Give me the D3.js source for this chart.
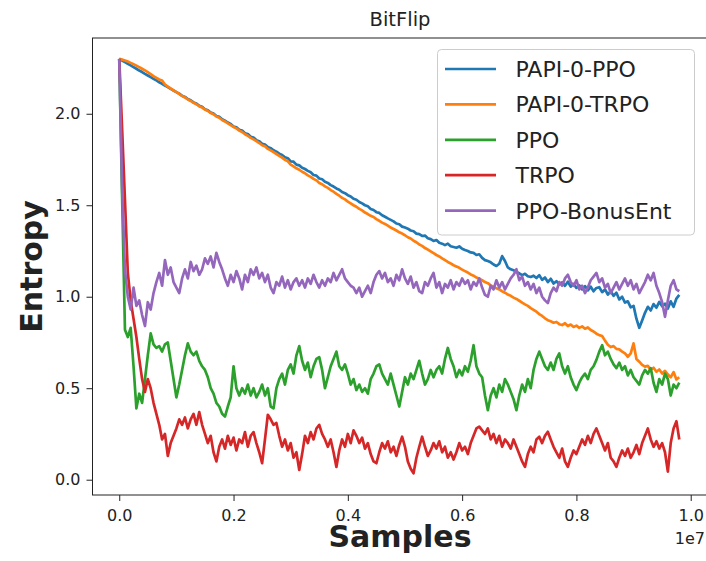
<!DOCTYPE html>
<html>
<head>
    <title>BitFlip</title>
    <script src="https://d3js.org/d3.v7.min.js"></script>
    <style>
        body { margin:0; background:white; }
        text { font-family:"DejaVu Sans", sans-serif; fill:#222; }
        .tick line { stroke:#222; }
        .series { fill:none; stroke-width:2.7; stroke-linejoin:round; }
    </style>
</head>
<body>
<script>
    // samples are logged every 50k steps (index * sampleStep)
    var sampleStep = 50000;

    var seriesNames = ["PAPI-0-PPO", "PAPI-0-TRPO", "PPO", "TRPO", "PPO-BonusEnt"];
    var seriesColors = ["#1f77b4", "#ff7f0e", "#2ca02c", "#d62728", "#9467bd"];

    var papiPPO = [
        2.300,2.291,2.282,2.273,2.264,2.255,2.246,2.236,2.228,2.218,
        2.209,2.200,2.191,2.182,2.172,2.164,2.154,2.146,2.136,2.127,
        2.118,2.110,2.098,2.092,2.080,2.074,2.062,2.056,2.043,2.038,
        2.025,2.019,2.006,2.001,1.988,1.983,1.970,1.962,1.952,1.944,
        1.930,1.926,1.912,1.908,1.893,1.889,1.874,1.870,1.855,1.850,
        1.836,1.832,1.818,1.812,1.800,1.793,1.782,1.775,1.762,1.757,
        1.740,1.738,1.722,1.718,1.705,1.698,1.688,1.680,1.665,1.662,
        1.646,1.642,1.628,1.622,1.610,1.602,1.592,1.585,1.572,1.566,
        1.555,1.548,1.535,1.530,1.518,1.510,1.500,1.494,1.480,1.474,
        1.462,1.458,1.445,1.437,1.428,1.420,1.412,1.400,1.396,1.383,
        1.378,1.372,1.362,1.358,1.345,1.342,1.332,1.334,1.320,1.315,
        1.305,1.310,1.295,1.290,1.282,1.290,1.276,1.272,1.268,1.275,
        1.262,1.255,1.250,1.242,1.240,1.228,1.232,1.212,1.200,1.195,
        1.188,1.176,1.168,1.180,1.222,1.195,1.160,1.150,1.145,1.135,
        1.128,1.118,1.125,1.112,1.108,1.115,1.102,1.118,1.092,1.105,
        1.080,1.098,1.072,1.085,1.068,1.078,1.060,1.082,1.055,1.070,
        1.048,1.062,1.040,1.058,1.035,1.055,1.030,1.048,1.052,1.025,
        1.040,1.012,1.030,1.005,1.022,0.985,1.000,0.968,0.975,0.942,
        0.950,0.880,0.830,0.870,0.912,0.945,0.925,0.960,0.940,0.972,
        0.948,0.962,0.935,0.975,0.945,0.990,1.010
    ];
    var papiTRPO = [
        2.300,2.296,2.291,2.285,2.278,2.271,2.263,2.255,2.246,2.237,
        2.227,2.217,2.206,2.196,2.187,2.182,2.160,2.148,2.138,2.128,
        2.118,2.108,2.097,2.089,2.078,2.070,2.060,2.052,2.041,2.034,
        2.023,2.015,2.004,1.997,1.985,1.978,1.966,1.958,1.948,1.938,
        1.928,1.920,1.908,1.900,1.888,1.880,1.868,1.860,1.850,1.840,
        1.828,1.822,1.808,1.800,1.790,1.780,1.770,1.760,1.748,1.740,
        1.722,1.712,1.702,1.694,1.683,1.675,1.663,1.655,1.644,1.636,
        1.622,1.615,1.603,1.595,1.583,1.574,1.562,1.552,1.540,1.532,
        1.520,1.510,1.500,1.492,1.480,1.472,1.460,1.452,1.442,1.436,
        1.424,1.415,1.405,1.398,1.388,1.378,1.370,1.362,1.352,1.345,
        1.336,1.325,1.318,1.306,1.298,1.285,1.278,1.266,1.258,1.248,
        1.238,1.228,1.220,1.210,1.200,1.190,1.182,1.172,1.165,1.158,
        1.148,1.140,1.132,1.122,1.115,1.105,1.098,1.090,1.080,1.074,
        1.062,1.055,1.046,1.040,1.030,1.022,1.012,1.005,0.995,0.988,
        0.978,0.968,0.958,0.950,0.938,0.928,0.918,0.905,0.895,0.882,
        0.872,0.866,0.858,0.862,0.850,0.845,0.855,0.840,0.848,0.835,
        0.842,0.830,0.838,0.825,0.832,0.818,0.810,0.798,0.790,0.785,
        0.760,0.738,0.725,0.730,0.715,0.712,0.700,0.690,0.672,0.690,
        0.745,0.660,0.645,0.628,0.618,0.622,0.600,0.612,0.590,0.602,
        0.580,0.595,0.575,0.560,0.588,0.548,0.560
    ];
    var ppo = [
        2.30,1.55,0.82,0.78,0.83,0.62,0.39,0.47,0.42,0.55,
        0.68,0.80,0.74,0.72,0.73,0.70,0.74,0.75,0.65,0.55,
        0.45,0.52,0.60,0.68,0.745,0.70,0.68,0.70,0.65,0.62,
        0.60,0.56,0.50,0.47,0.42,0.40,0.36,0.345,0.40,0.45,
        0.62,0.50,0.46,0.50,0.47,0.52,0.46,0.50,0.45,0.48,
        0.52,0.46,0.50,0.40,0.39,0.50,0.55,0.58,0.52,0.60,
        0.63,0.58,0.68,0.73,0.65,0.60,0.64,0.56,0.62,0.66,
        0.67,0.60,0.50,0.56,0.62,0.66,0.70,0.62,0.60,0.63,
        0.58,0.52,0.55,0.49,0.52,0.48,0.50,0.47,0.55,0.58,
        0.62,0.63,0.58,0.55,0.52,0.58,0.52,0.46,0.40,0.48,
        0.56,0.52,0.58,0.55,0.60,0.65,0.58,0.52,0.55,0.60,
        0.56,0.60,0.62,0.58,0.66,0.72,0.66,0.62,0.56,0.60,
        0.57,0.62,0.59,0.65,0.735,0.62,0.58,0.56,0.46,0.38,
        0.46,0.50,0.45,0.52,0.48,0.55,0.52,0.48,0.44,0.38,
        0.46,0.52,0.48,0.55,0.50,0.60,0.66,0.70,0.66,0.62,
        0.60,0.64,0.60,0.66,0.69,0.62,0.58,0.62,0.56,0.52,
        0.49,0.53,0.56,0.58,0.55,0.60,0.62,0.655,0.70,0.735,
        0.68,0.70,0.66,0.63,0.61,0.64,0.60,0.62,0.57,0.60,
        0.56,0.54,0.52,0.57,0.60,0.58,0.61,0.53,0.48,0.55,
        0.52,0.58,0.55,0.46,0.52,0.50,0.53
    ];
    var trpo = [
        2.30,1.92,1.53,1.13,0.98,0.88,0.78,0.66,0.55,0.48,
        0.55,0.50,0.42,0.36,0.30,0.22,0.25,0.13,0.20,0.24,
        0.28,0.33,0.30,0.34,0.28,0.33,0.36,0.30,0.37,0.30,
        0.25,0.20,0.24,0.15,0.10,0.18,0.22,0.17,0.24,0.19,
        0.23,0.16,0.22,0.20,0.26,0.18,0.24,0.26,0.20,0.15,
        0.09,0.22,0.355,0.33,0.30,0.31,0.24,0.18,0.22,0.16,
        0.20,0.12,0.15,0.053,0.14,0.24,0.20,0.26,0.22,0.28,
        0.30,0.25,0.22,0.18,0.22,0.15,0.07,0.16,0.22,0.18,
        0.25,0.20,0.27,0.24,0.20,0.23,0.17,0.20,0.14,0.10,
        0.09,0.15,0.20,0.17,0.21,0.15,0.18,0.13,0.19,0.235,
        0.18,0.10,0.06,0.035,0.12,0.18,0.235,0.18,0.13,0.16,
        0.20,0.17,0.21,0.15,0.18,0.12,0.15,0.11,0.15,0.20,
        0.16,0.18,0.14,0.20,0.24,0.28,0.29,0.27,0.25,0.28,
        0.22,0.25,0.20,0.24,0.18,0.22,0.20,0.17,0.22,0.18,
        0.14,0.10,0.07,0.14,0.18,0.15,0.22,0.235,0.20,0.24,
        0.262,0.22,0.18,0.15,0.12,0.17,0.10,0.07,0.12,0.16,
        0.14,0.18,0.22,0.19,0.24,0.20,0.25,0.28,0.24,0.20,
        0.16,0.20,0.12,0.10,0.07,0.12,0.16,0.13,0.17,0.12,
        0.15,0.19,0.14,0.20,0.24,0.28,0.22,0.18,0.21,0.17,
        0.20,0.15,0.044,0.20,0.28,0.32,0.22
    ];
    var ppoBonusEnt = [
        2.30,1.60,1.15,1.00,0.93,1.05,0.95,0.98,0.90,0.84,
        0.97,0.93,1.02,1.08,1.13,1.06,1.20,1.12,1.16,1.08,
        1.05,1.02,1.10,1.15,1.10,1.19,1.14,1.17,1.12,1.15,
        1.21,1.18,1.22,1.16,1.24,1.19,1.15,1.10,1.06,1.12,
        1.08,1.14,1.10,1.04,1.12,1.08,1.15,1.12,1.16,1.10,
        1.13,1.08,1.12,1.05,1.02,1.08,1.06,1.11,1.05,1.09,
        1.04,1.08,1.10,1.06,1.09,1.05,1.10,1.07,1.12,1.08,
        1.05,1.09,1.06,1.10,1.08,1.13,1.09,1.12,1.15,1.10,
        1.08,1.06,1.05,1.02,1.05,1.00,1.03,1.06,1.02,1.08,
        1.12,1.14,1.10,1.13,1.08,1.10,1.06,1.12,1.09,1.15,
        1.10,1.07,1.11,1.05,1.08,1.03,1.02,1.08,1.06,1.10,
        1.13,1.05,1.08,1.02,1.07,1.05,1.09,1.04,1.08,1.06,
        1.10,1.07,1.09,1.04,1.08,1.06,1.10,1.05,1.01,1.00,
        1.06,1.04,1.09,1.05,1.08,1.04,1.07,1.10,1.12,1.15,
        1.09,1.11,1.06,1.08,1.04,1.07,1.02,1.05,1.00,0.98,
        0.965,1.02,1.05,1.03,1.08,1.06,1.10,1.12,1.08,1.06,
        1.09,1.04,1.06,1.02,1.05,1.09,1.11,1.13,1.08,1.10,
        1.05,1.07,1.02,1.05,1.08,1.04,1.07,1.10,1.06,1.09,
        1.04,1.07,1.02,1.05,1.08,1.12,1.09,1.13,1.06,1.02,
        0.97,0.89,0.98,1.06,1.09,1.04,1.03
    ];

    var xTicks = [0, 2e6, 4e6, 6e6, 8e6, 1e7];
    var yTicks = [0, 0.5, 1.0, 1.5, 2.0];

    var allSeries = [papiPPO, papiTRPO, ppo, trpo, ppoBonusEnt];

    var width = 706, height = 561;
    var axLeft = 92.5, axRight = 707, axTop = 38, axBottom = 495;

    var svg = d3.select("body").append("svg")
                .attr("width", width).attr("height", height);

    var x = d3.scaleLinear().domain([-0.0468e7, 1.0285e7]).range([axLeft, axRight]);
    var y = d3.scaleLinear().domain([-0.0836, 2.414]).range([axBottom, axTop]);

    var line = d3.line()
                 .x(function(d, i){ return x(i * sampleStep); })
                 .y(function(d){ return y(d); });

    svg.append("g").selectAll("path")
        .data(allSeries)
        .enter().append("path")
        .attr("class", "series")
        .attr("stroke", function(d, i){ return seriesColors[i]; })
        .attr("d", line);

    // axes frame
    svg.append("rect")
        .attr("x", axLeft).attr("y", axTop)
        .attr("width", axRight - axLeft).attr("height", axBottom - axTop)
        .attr("fill", "none").attr("stroke", "#222").attr("stroke-width", 1);

    var xAxis = svg.append("g").attr("transform", "translate(0," + axBottom + ")")
        .call(d3.axisBottom(x).tickValues(xTicks).tickSize(6).tickPadding(9)
              .tickFormat(function(d){ return (d / 1e7).toFixed(1); }));
    xAxis.select(".domain").remove();
    xAxis.selectAll("text").style("font-size", "16px").attr("fill", "#222");

    var yAxis = svg.append("g").attr("transform", "translate(" + axLeft + ",0)")
        .call(d3.axisLeft(y).tickValues(yTicks).tickSize(6).tickPadding(6)
              .tickFormat(d3.format(".1f")));
    yAxis.select(".domain").remove();
    yAxis.selectAll("text").style("font-size", "16px").attr("fill", "#222");

    // offset label for the x axis
    svg.append("text").text("1e7")
        .attr("x", 705).attr("y", 543.5)
        .attr("text-anchor", "end")
        .style("font-size", "16px");

    svg.append("text").text("BitFlip")
        .attr("x", 400).attr("y", 26)
        .attr("text-anchor", "middle")
        .style("font-size", "19.5px");

    svg.append("text").text("Samples")
        .attr("x", 400).attr("y", 547)
        .attr("text-anchor", "middle")
        .style("font-size", "30px").style("font-weight", "bold").attr("fill", "#000");

    svg.append("text").text("Entropy")
        .attr("transform", "translate(41.5," + ((axTop + axBottom) / 2) + ") rotate(-90)")
        .attr("text-anchor", "middle")
        .style("font-size", "30px").style("font-weight", "bold").attr("fill", "#000");

    // legend
    var legend = svg.append("g").attr("transform", "translate(437.5,49.5)");
    legend.append("rect")
        .attr("width", 257).attr("height", 185.5)
        .attr("rx", 4).attr("ry", 4)
        .attr("fill", "white").attr("fill-opacity", 0.8)
        .attr("stroke", "#cccccc").attr("stroke-width", 1);

    var rows = legend.selectAll("g.row")
        .data(seriesNames)
        .enter().append("g")
        .attr("class", "row")
        .attr("transform", function(d, i){ return "translate(0," + (19.5 + i * 35.4) + ")"; });
    rows.append("line")
        .attr("x1", 7.5).attr("x2", 58.5)
        .attr("stroke", function(d, i){ return seriesColors[i]; })
        .attr("stroke-width", 2.7);
    rows.append("text")
        .text(function(d){ return d; })
        .attr("x", 78).attr("y", 8)
        .style("font-size", "22px");
</script>
</body>
</html>
